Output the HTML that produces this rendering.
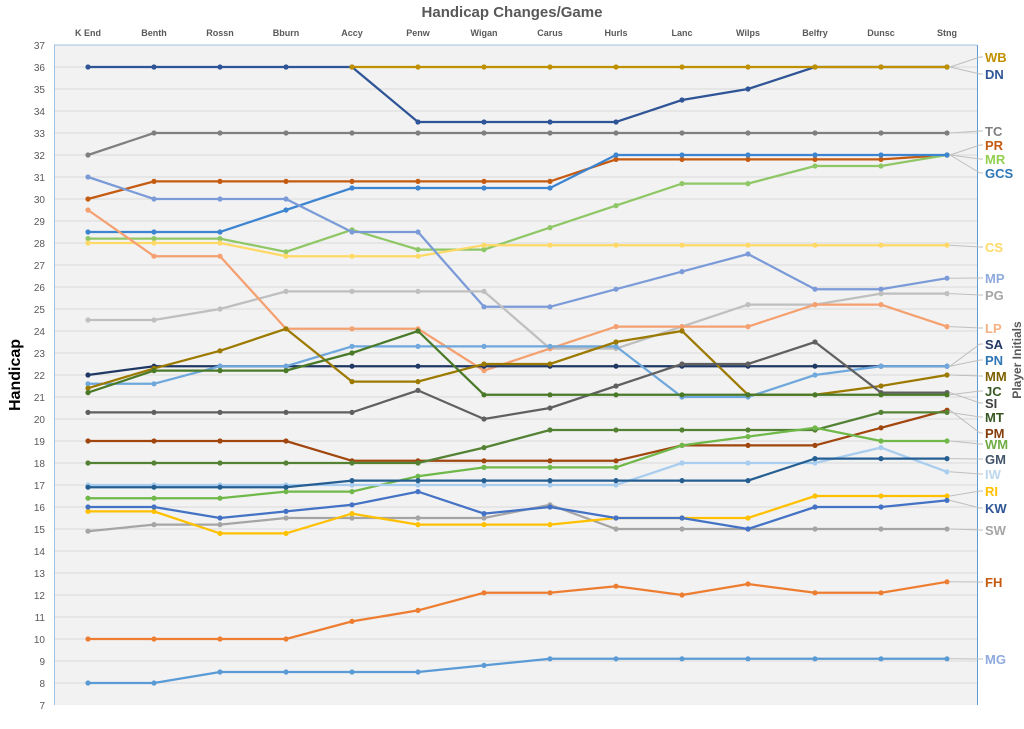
<!DOCTYPE html>
<html><head><meta charset="utf-8"><style>
body{margin:0;background:#fff;width:1024px;height:724px;overflow:hidden}
svg{font-family:"Liberation Sans",sans-serif}
</style></head><body>
<svg id="s" width="1024" height="724" xmlns="http://www.w3.org/2000/svg">
<rect x="54" y="45" width="923" height="660" fill="#f2f2f2"/>
<g id="grid"></g>
<line x1="54" y1="45" x2="977" y2="45" stroke="#9dc3e6"/>
<line x1="54.5" y1="45" x2="54.5" y2="705" stroke="#9dc3e6"/>
<line x1="977.5" y1="45" x2="977.5" y2="705" stroke="#5b9bd5"/>
<text x="512" y="17" text-anchor="middle" font-size="15" font-weight="bold" fill="#595959">Handicap Changes/Game</text>
<g font-size="9" font-weight="bold" fill="#595959" text-anchor="middle">
<text x="88" y="36">K End</text><text x="154" y="36">Benth</text><text x="220" y="36">Rossn</text><text x="286" y="36">Bburn</text><text x="352" y="36">Accy</text><text x="418" y="36">Penw</text><text x="484" y="36">Wigan</text><text x="550" y="36">Carus</text><text x="616" y="36">Hurls</text><text x="682" y="36">Lanc</text><text x="748" y="36">Wilps</text><text x="815" y="36">Belfry</text><text x="881" y="36">Dunsc</text><text x="947" y="36">Stng</text>
</g>
<g font-size="10" fill="#595959" text-anchor="end">
<text x="45" y="49">37</text><text x="45" y="71">36</text><text x="45" y="93">35</text><text x="45" y="115">34</text><text x="45" y="137">33</text><text x="45" y="159">32</text><text x="45" y="181">31</text><text x="45" y="203">30</text><text x="45" y="225">29</text><text x="45" y="247">28</text><text x="45" y="269">27</text><text x="45" y="291">26</text><text x="45" y="313">25</text><text x="45" y="335">24</text><text x="45" y="357">23</text><text x="45" y="379">22</text><text x="45" y="401">21</text><text x="45" y="423">20</text><text x="45" y="445">19</text><text x="45" y="467">18</text><text x="45" y="489">17</text><text x="45" y="511">16</text><text x="45" y="533">15</text><text x="45" y="555">14</text><text x="45" y="577">13</text><text x="45" y="599">12</text><text x="45" y="621">11</text><text x="45" y="643">10</text><text x="45" y="665">9</text><text x="45" y="687">8</text><text x="45" y="709">7</text>
</g>
<text transform="translate(20,375) rotate(-90)" text-anchor="middle" font-size="16" font-weight="bold" fill="#000">Handicap</text>
<text transform="translate(1021,360) rotate(-90)" text-anchor="middle" font-size="12" font-weight="bold" fill="#595959">Player Initials</text>
<g id="lead"></g>
<g id="series"></g>
<g font-size="13" font-weight="bold">
<text x="985" y="62" fill="#bf9000">WB</text>
<text x="985" y="79" fill="#2f5597">DN</text>
<text x="985" y="136" fill="#7f7f7f">TC</text>
<text x="985" y="150" fill="#c55a11">PR</text>
<text x="985" y="164" fill="#92d050">MR</text>
<text x="985" y="178" fill="#2e75b6">GCS</text>
<text x="985" y="252" fill="#ffd966">CS</text>
<text x="985" y="283" fill="#8faadc">MP</text>
<text x="985" y="300" fill="#a5a5a5">PG</text>
<text x="985" y="333" fill="#f4b183">LP</text>
<text x="985" y="349" fill="#203864">SA</text>
<text x="985" y="365" fill="#2e75b6">PN</text>
<text x="985" y="381" fill="#7f6000">MM</text>
<text x="985" y="396" fill="#385723">JC</text>
<text x="985" y="408" fill="#404040">SI</text>
<text x="985" y="422" fill="#385723">MT</text>
<text x="985" y="438" fill="#843c0c">PM</text>
<text x="985" y="449" fill="#70ad47">WM</text>
<text x="985" y="464" fill="#44546a">GM</text>
<text x="985" y="479" fill="#bdd7ee">IW</text>
<text x="985" y="496" fill="#ffc000">RI</text>
<text x="985" y="513" fill="#2f5597">KW</text>
<text x="985" y="535" fill="#a5a5a5">SW</text>
<text x="985" y="587" fill="#c55a11">FH</text>
<text x="985" y="664" fill="#8faadc">MG</text>
</g>
<script>
var X=[88,154,220,286,352,418,484,550,616,682,748,815,881,947];
function Y(v){return 45+(37-v)*22;}
var ns="http://www.w3.org/2000/svg";
var g=document.getElementById('grid');
for(var v=36;v>=8;v--){var l=document.createElementNS(ns,'line');l.setAttribute('x1',55);l.setAttribute('x2',977);l.setAttribute('y1',Y(v));l.setAttribute('y2',Y(v));l.setAttribute('stroke','#d9d9d9');g.appendChild(l);}
var S=[
["#2f5597",[36,36,36,36,36,33.5,33.5,33.5,33.5,34.5,35,36,36,36],74],
["#bf9000",[null,null,null,null,36,36,36,36,36,36,36,36,36,36],57],
["#7f7f7f",[32,33,33,33,33,33,33,33,33,33,33,33,33,33],131],
["#c55a11",[30,30.8,30.8,30.8,30.8,30.8,30.8,30.8,31.8,31.8,31.8,31.8,31.8,32],145],
["#8fc766",[28.2,28.2,28.2,27.6,28.6,27.7,27.7,28.7,29.7,30.7,30.7,31.5,31.5,32],159],
["#3d85d0",[28.5,28.5,28.5,29.5,30.5,30.5,30.5,30.5,32,32,32,32,32,32],173],
["#ffd966",[28,28,28,27.4,27.4,27.4,27.9,27.9,27.9,27.9,27.9,27.9,27.9,27.9],247],
["#7b9bd8",[31,30,30,30,28.5,28.5,25.1,25.1,25.9,26.7,27.5,25.9,25.9,26.4],278],
["#bfbfbf",[24.5,24.5,25,25.8,25.8,25.8,25.8,23.2,23.2,24.2,25.2,25.2,25.7,25.7],295],
["#f4a070",[29.5,27.4,27.4,24.1,24.1,24.1,22.2,23.2,24.2,24.2,24.2,25.2,25.2,24.2],328],
["#203864",[22,22.4,22.4,22.4,22.4,22.4,22.4,22.4,22.4,22.4,22.4,22.4,22.4,22.4],344],
["#6fa8dc",[21.6,21.6,22.4,22.4,23.3,23.3,23.3,23.3,23.3,21,21,22,22.4,22.4],360],
["#9c7a00",[21.4,22.3,23.1,24.1,21.7,21.7,22.5,22.5,23.5,24,21.1,21.1,21.5,22],376],
["#606060",[20.3,20.3,20.3,20.3,20.3,21.3,20,20.5,21.5,22.5,22.5,23.5,21.2,21.2],403],
["#4a7a28",[21.2,22.2,22.2,22.2,23,24,21.1,21.1,21.1,21.1,21.1,21.1,21.1,21.1],391],
["#a0460e",[19,19,19,19,18.1,18.1,18.1,18.1,18.1,18.8,18.8,18.8,19.6,20.4],433],
["#548235",[18,18,18,18,18,18,18.7,19.5,19.5,19.5,19.5,19.5,20.3,20.3],417],
["#70b84a",[16.4,16.4,16.4,16.7,16.7,17.4,17.8,17.8,17.8,18.8,19.2,19.6,19,19],444],
["#a9cdee",[17,17,17,17,17,17,17,17,17,18,18,18,18.7,17.6],474],
["#255e91",[16.9,16.9,16.9,16.9,17.2,17.2,17.2,17.2,17.2,17.2,17.2,18.2,18.2,18.2],459],
["#a5a5a5",[14.9,15.2,15.2,15.5,15.5,15.5,15.5,16.1,15,15,15,15,15,15],530],
["#ffc000",[15.8,15.8,14.8,14.8,15.7,15.2,15.2,15.2,15.5,15.5,15.5,16.5,16.5,16.5],491],
["#4472c4",[16,16,15.5,15.8,16.1,16.7,15.7,16,15.5,15.5,15,16,16,16.3],508],
["#ed7d31",[10,10,10,10,10.8,11.3,12.1,12.1,12.4,12,12.5,12.1,12.1,12.6],582],
["#5b9bd5",[8,8,8.5,8.5,8.5,8.5,8.8,9.1,9.1,9.1,9.1,9.1,9.1,9.1],659]];
var sg=document.getElementById('series'),lg=document.getElementById('lead');
S.forEach(function(s){var pts=[];s[1].forEach(function(v,i){if(v!==null)pts.push(X[i]+','+Y(v));});
var p=document.createElementNS(ns,'polyline');p.setAttribute('points',pts.join(' '));p.setAttribute('fill','none');p.setAttribute('stroke',s[0]);p.setAttribute('stroke-width',2.25);sg.appendChild(p);
s[1].forEach(function(v,i){if(v===null)return;var c=document.createElementNS(ns,'circle');c.setAttribute('cx',X[i]);c.setAttribute('cy',Y(v));c.setAttribute('r',2.6);c.setAttribute('fill',s[0]);sg.appendChild(c);});
var last=s[1][13];var l=document.createElementNS(ns,'polyline');l.setAttribute('points',(X[13]+3)+','+Y(last)+' 980,'+s[2]+' 983,'+s[2]);l.setAttribute('fill','none');l.setAttribute('stroke','#bfbfbf');lg.appendChild(l);});
</script>
</svg>
</body></html>
